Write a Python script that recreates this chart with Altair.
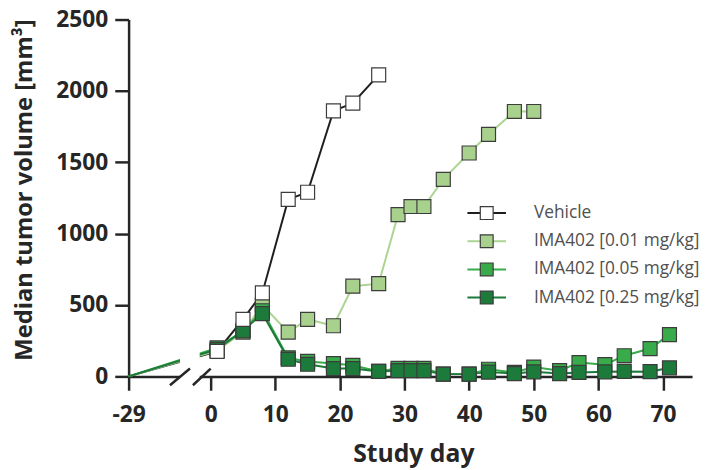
import altair as alt
import pandas as pd

SERIES = ["Vehicle", "IMA402 [0.01 mg/kg]", "IMA402 [0.05 mg/kg]", "IMA402 [0.25 mg/kg]"]
LINE_COLORS = ["#1e1e1e", "#acd493", "#3aab4a", "#1c7a3a"]
FILL_COLORS = ["#ffffff", "#a9d18e", "#3aab4a", "#1c7a3a"]
ZORDER = [4, 1, 2, 3]

vehicle_days = [-29, 1, 5, 8, 12, 15, 19, 22, 26]
vehicle_vals = [0, 175, 400, 585, 1240, 1290, 1860, 1915, 2112]

low_days = [-29, 1, 5, 8, 12, 15, 19, 22, 26, 29, 31, 33, 36, 40, 43, 47, 50]
low_vals = [0, 180, 310, 500, 310, 400, 355, 632, 650, 1133, 1190, 1190, 1380, 1565, 1696, 1856, 1856]

long_days = [-29, 1, 5, 8, 12, 15, 19, 22, 26, 29, 31, 33, 36, 40, 43, 47, 50, 54, 57, 61, 64, 68, 71]
mid_vals = [0, 200, 320, 460, 130, 105, 90, 78, 35, 57, 57, 57, 16, 16, 50, 28, 65, 40, 97, 82, 145, 195, 293]
high_vals = [0, 190, 320, 440, 120, 85, 55, 55, 35, 40, 40, 40, 16, 16, 30, 20, 32, 20, 28, 32, 35, 33, 60]

x_ticks = [0, 10, 20, 30, 40, 50, 60, 70]
y_ticks = [0, 500, 1000, 1500, 2000, 2500]

BREAK_POS = -12.7  # where day -29 sits on the compressed axis
X_MAX = 74.5

rows = []
for name, days, vals, z in [
    (SERIES[0], vehicle_days, vehicle_vals, ZORDER[0]),
    (SERIES[1], low_days, low_vals, ZORDER[1]),
    (SERIES[2], long_days, mid_vals, ZORDER[2]),
    (SERIES[3], long_days, high_vals, ZORDER[3]),
]:
    for d, v in zip(days, vals):
        rows.append({"series": name, "day": d, "volume": v, "z": z})
df = pd.DataFrame(rows)

gap_df = pd.DataFrame({"xpos": [-4.75], "xpos2": [-1.7], "volume": [-25], "volume2": [320]})
slash_df = pd.DataFrame({"xpos": [-6.3, -2.75], "xpos2": [-3.2, 0.0],
                         "volume": [-62, -62], "volume2": [55, 55]})

FONT = "Open Sans"
AXC = "#262626"

xscale = alt.Scale(domain=[BREAK_POS, X_MAX], nice=False, zero=False)
yscale = alt.Scale(domain=[0, 2500], nice=False)

x_axis = alt.Axis(
    values=[BREAK_POS] + x_ticks,
    labelExpr="datum.value < -5 ? '-29' : datum.label",
    title="Study day", grid=False,
    tickSize=14, tickWidth=2.5, tickColor=AXC,
    domainWidth=2.5, domainColor=AXC,
    labelFont=FONT, labelFontWeight="bold", labelFontSize=23, labelColor=AXC,
    labelPadding=14, labelFlush=False, labelOverlap=False,
    titleFont=FONT, titleFontWeight="bold", titleFontSize=25, titleColor=AXC,
    titleX=288, titleY=86, titleBaseline="alphabetic", titleAlign="center",
)
y_axis = alt.Axis(
    values=y_ticks, format="d", title="Median tumor volume [mm³]", grid=False,
    tickSize=14, tickWidth=2.5, tickColor=AXC,
    domainWidth=2.5, domainColor=AXC,
    labelFont=FONT, labelFontWeight="bold", labelFontSize=23, labelColor=AXC,
    labelPadding=7,
    titleFont=FONT, titleFontWeight="bold", titleFontSize=24, titleColor=AXC,
    titleAngle=270, titleX=-105, titleY=172, titleAlign="center", titleBaseline="middle",
)

base = alt.Chart(df).transform_calculate(
    xpos=f"datum.day < 0 ? {BREAK_POS} : datum.day",
    series_line="datum.series + ' '",
)

lines = base.mark_line(strokeWidth=2).encode(
    x=alt.X("xpos:Q", scale=xscale, axis=x_axis),
    y=alt.Y("volume:Q", scale=yscale, axis=y_axis),
    stroke=alt.Stroke(
        "series_line:N",
        scale=alt.Scale(domain=[s + " " for s in SERIES], range=LINE_COLORS),
        legend=alt.Legend(
            title=None, orient="none", legendX=353.5, legendY=187,
            symbolType="M-3,0H-0.5M0.5,0H3", symbolSize=169, symbolStrokeWidth=2,
            labelFont=FONT, labelFontSize=17.5, labelExpr="''", labelOffset=39,
            rowPadding=9.5, padding=0,
        ),
    ),
    detail="series:N",
)

gap = alt.Chart(gap_df).mark_rect(color="white").encode(
    x="xpos:Q", x2="xpos2:Q", y="volume:Q", y2="volume2:Q"
)

slashes = alt.Chart(slash_df).mark_rule(color=AXC, strokeWidth=2.5).encode(
    x="xpos:Q", x2="xpos2:Q", y="volume:Q", y2="volume2:Q"
)

points = base.transform_filter("datum.day >= 0").mark_square(
    size=200, filled=True, stroke="#3c3c3c", strokeWidth=1.2, opacity=1
).encode(
    x="xpos:Q",
    y="volume:Q",
    fill=alt.Fill(
        "series:N",
        scale=alt.Scale(domain=SERIES, range=FILL_COLORS),
        legend=alt.Legend(
            title=None, orient="none", legendX=353.5, legendY=187,
            symbolType="square", symbolSize=169, symbolStrokeColor="#3c3c3c",
            symbolStrokeWidth=1.2, symbolOpacity=1,
            labelFont=FONT, labelFontSize=17.5, labelColor="#505050", labelOffset=39,
            labelLimit=0, rowPadding=9.5, padding=0,
        ),
    ),
    order=alt.Order("z:Q"),
)

chart = alt.layer(lines, gap, slashes, points).properties(
    width=570, height=361,
    autosize=alt.AutoSizeParams(type="none"),
    padding={"left": 122, "top": 9, "right": 7, "bottom": 92},
).configure_view(stroke=None)

chart.save("out.html", embed_options={"renderer": "svg", "actions": False})
